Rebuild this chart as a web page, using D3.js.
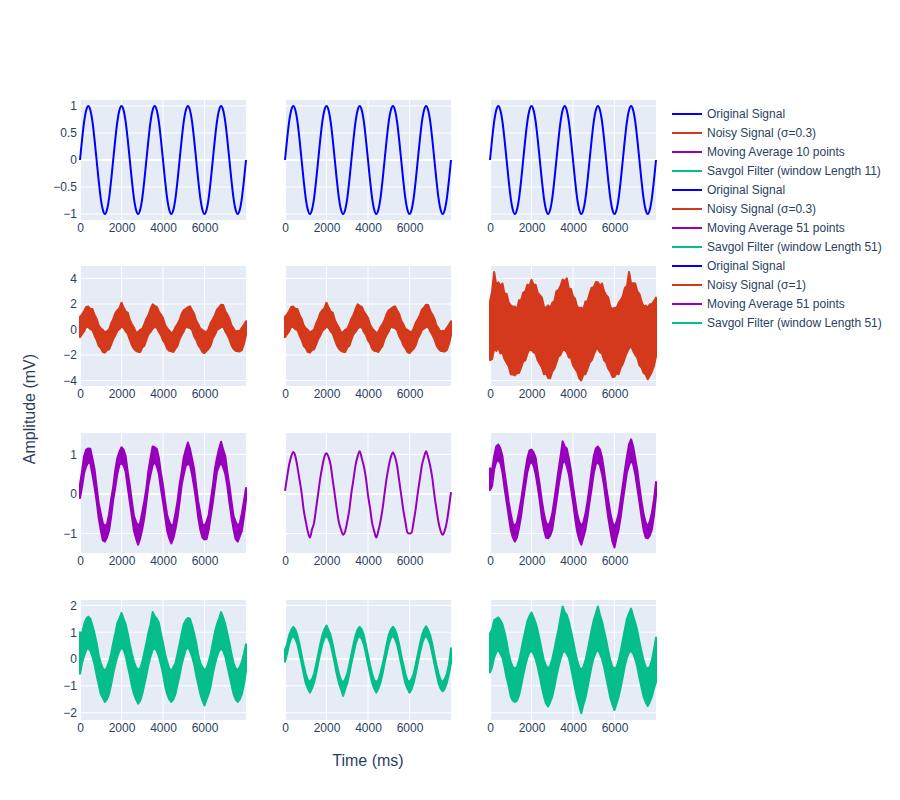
<!DOCTYPE html>
<html>
<head>
<meta charset="utf-8">
<script src="https://cdn.jsdelivr.net/npm/d3@7"></script>
<style>
  body { margin: 0; background: #fff; }
  svg { font-family: "Liberation Sans", Arial, sans-serif; }
</style>
</head>
<body>
<script>
// sample times (ms), read every 100 ms
const time = [0,100,200,300,400,500,600,700,800,900,1000,1100,1200,1300,1400,1500,
  1600,1700,1800,1900,2000,2100,2200,2300,2400,2500,2600,2700,2800,2900,3000,3100,
  3200,3300,3400,3500,3600,3700,3800,3900,4000,4100,4200,4300,4400,4500,4600,4700,
  4800,4900,5000,5100,5200,5300,5400,5500,5600,5700,5800,5900,6000,6100,6200,6300,
  6400,6500,6600,6700,6800,6900,7000,7100,7200,7300,7400,7500,7600,7700,7800,7900,
  8000]

const original = [0,.38,.71,.92,1,.92,.71,.38,0,-.38,-.71,-.92,-1,-.92,-.71,-.38,
  0,.38,.71,.92,1,.92,.71,.38,0,-.38,-.71,-.92,-1,-.92,-.71,-.38,
  0,.38,.71,.92,1,.92,.71,.38,0,-.38,-.71,-.92,-1,-.92,-.71,-.38,
  0,.38,.71,.92,1,.92,.71,.38,0,-.38,-.71,-.92,-1,-.92,-.71,-.38,
  0,.38,.71,.92,1,.92,.71,.38,0,-.38,-.71,-.92,-1,-.92,-.71,-.38,
  0]

// noisy / filtered traces are too dense to follow point by point,
// so they are kept as the upper and lower edge of the band they paint
const noisy03Hi = [1.0,1.18,1.46,1.77,1.8,1.62,1.61,1.13,.85,.32,.09,-.02,-.25,-.12,-.01,.47,
  .8,1.28,1.51,1.67,2.1,1.72,1.41,1.33,.75,.42,.14,-.22,-.2,-.02,.04,.42,
  .85,1.13,1.61,1.97,1.85,1.77,1.41,1.18,.9,.37,.09,-.07,-.3,-.17,.19,.42,
  .75,1.23,1.51,1.62,1.75,1.82,1.51,1.23,.7,.42,.04,-.02,-.15,-.22,.09,.52,
  .8,1.13,1.56,1.72,1.95,1.92,1.46,1.18,.85,.32,.09,-.17,-.1,-.12,.14,.37,
  .65]
const noisy03Lo = [-.6,-.37,-.14,.22,.2,.02,-.04,-.47,-.8,-1.28,-1.46,-1.77,-1.8,-1.62,-1.56,-1.18,
  -.75,-.47,-.09,.02,.25,.12,-.14,-.32,-.8,-1.23,-1.51,-1.67,-1.75,-1.77,-1.41,-1.28,
  -.8,-.37,-.19,.07,.2,.17,-.19,-.42,-.85,-1.08,-1.51,-1.67,-1.7,-1.77,-1.51,-1.28,
  -.75,-.42,-.14,.22,.15,.12,-.04,-.52,-.8,-1.23,-1.46,-1.77,-1.85,-1.67,-1.51,-1.23,
  -.7,-.42,-.04,.07,.2,.22,-.14,-.42,-.75,-1.23,-1.51,-1.67,-1.7,-1.72,-1.61,-1.13,
  -.45]

const noisy1Hi = [2.2,2.98,4.51,3.52,3.7,3.42,3.61,2.78,2.8,2.12,1.89,1.78,1.8,1.58,2.29,2.32,
  2.9,2.98,3.51,3.42,3.9,3.52,3.51,2.88,2.7,2.52,1.79,1.68,1.9,1.68,2.09,2.22,
  3.0,3.08,3.41,3.92,3.8,4.02,3.21,3.18,2.6,2.42,1.79,1.68,1.7,1.58,2.19,2.22,
  2.8,3.28,3.31,3.72,3.7,3.42,3.61,2.98,2.7,2.52,1.79,1.58,1.7,1.68,2.09,2.32,
  2.6,3.28,3.41,4.52,3.6,3.62,3.61,2.98,2.8,2.22,1.79,1.88,1.7,1.98,1.99,2.22,
  2.5]
const noisy1Lo = [-2.4,-2.32,-1.49,-1.68,-1.4,-1.88,-1.79,-2.32,-2.6,-2.88,-3.51,-3.52,-3.6,-3.42,-3.41,-2.98,
  -2.5,-2.42,-1.89,-1.58,-1.6,-1.78,-1.89,-2.42,-2.7,-2.98,-3.51,-3.42,-3.8,-3.82,-3.31,-3.08,
  -2.6,-2.12,-1.99,-1.58,-1.6,-1.78,-2.19,-2.22,-2.8,-3.08,-3.31,-3.82,-4.0,-3.52,-3.51,-3.08,
  -2.6,-2.42,-1.99,-1.58,-1.5,-1.78,-1.89,-2.42,-2.6,-3.08,-3.31,-3.72,-3.7,-3.42,-3.51,-2.98,
  -2.7,-2.22,-1.79,-1.48,-1.3,-1.68,-1.99,-2.22,-2.8,-2.98,-3.41,-3.52,-3.9,-3.62,-3.31,-2.88,
  -2.1]

const ma10Hi = [.25,.58,.96,1.12,1.15,1.14,.89,.63,.2,-.23,-.49,-.74,-.8,-.77,-.51,-.13,
  .18,.6,.91,1.07,1.18,1.12,.96,.56,.22,-.18,-.56,-.7,-.82,-.72,-.46,-.18,
  .15,.6,.91,1.2,1.18,1.14,.91,.53,.22,-.18,-.53,-.7,-.8,-.77,-.49,-.18,
  .25,.56,.93,1.12,1.3,1.14,.89,.63,.2,-.2,-.49,-.77,-.8,-.7,-.53,-.16,
  .2,.63,.91,1.14,1.32,1.12,.96,.56,.22,-.18,-.56,-.7,-.8,-.74,-.49,-.18,
  .15]
const ma10Lo = [-.1,.18,.53,.7,.8,.77,.49,.18,-.18,-.6,-.91,-1.17,-1.2,-1.1,-.93,-.58,
  -.15,.16,.51,.74,.78,.72,.56,.16,-.2,-.56,-.93,-1.12,-1.28,-1.12,-.89,-.6,
  -.2,.23,.49,.72,.82,.7,.51,.13,-.2,-.56,-.93,-1.12,-1.25,-1.12,-.89,-.6,
  -.2,.23,.49,.72,.75,.74,.49,.18,-.18,-.6,-.91,-1.1,-1.15,-1.14,-.91,-.56,
  -.22,.18,.56,.7,.8,.67,.51,.2,-.22,-.58,-.89,-1.14,-1.2,-1.07,-.93,-.58,
  -.15]

const ma51Smooth = [.08,.42,.74,.95,1.06,.95,.68,.36,.03,-.4,-.69,-.95,-1.1,-.9,-.73,-.36,
  .02,.4,.7,.94,1.03,.93,.73,.35,-.02,-.4,-.72,-.9,-1.03,-.94,-.7,-.4,
  .03,.37,.73,.95,1.08,.9,.7,.4,-.03,-.36,-.73,-.94,-1.1,-.93,-.69,-.38,
  .02,.4,.7,.93,1.05,.94,.72,.35,-.02,-.4,-.7,-.97,-1.0,-.98,-.7,-.37,
  .03,.38,.73,.93,1.08,.92,.7,.4,-.03,-.38,-.72,-.93,-1.03,-.92,-.7,-.35,
  .05]

const ma51NoisyHi = [.65,.6,.95,1.2,1.25,1.15,.95,.55,.2,-.2,-.5,-.75,-.8,-.72,-.45,-.15,
  .2,.58,.9,1.1,1.12,1.05,.92,.55,.22,-.18,-.5,-.72,-.8,-.7,-.5,-.15,
  .22,.6,.95,1.33,1.2,1.15,.9,.6,.2,-.15,-.5,-.7,-.8,-.72,-.5,-.18,
  .2,.6,.95,1.15,1.2,1.12,.92,.58,.18,-.15,-.48,-.72,-.82,-.7,-.5,-.15,
  .22,.6,.95,1.25,1.38,1.2,.9,.6,.2,-.18,-.5,-.72,-.82,-.7,-.48,-.15,
  .3]
const ma51NoisyLo = [.1,.2,.62,.82,.85,.78,.55,.15,-.2,-.55,-.9,-1.1,-1.2,-1.1,-.85,-.55,
  -.15,.2,.55,.75,.82,.72,.5,.18,-.18,-.6,-.9,-1.1,-1.12,-1.05,-.9,-.55,
  -.2,.18,.5,.78,.85,.7,.5,.15,-.2,-.6,-.95,-1.15,-1.28,-1.1,-.9,-.58,
  -.2,.15,.52,.75,.8,.72,.5,.2,-.22,-.6,-.92,-1.2,-1.35,-1.1,-.9,-.58,
  -.18,.18,.55,.72,.85,.75,.5,.15,-.2,-.58,-.9,-1.1,-1.12,-1.05,-.9,-.55,
  -.05]

const sg11Hi = [1.0,.95,1.3,1.5,1.58,1.5,1.25,.95,.6,.15,-.15,-.35,-.45,-.3,-.1,.2,
  .6,.95,1.35,1.5,1.72,1.5,1.3,.95,.55,.2,-.1,-.3,-.4,-.35,-.1,.25,
  .6,1.0,1.3,1.75,1.6,1.5,1.35,.95,.6,.2,-.1,-.35,-.45,-.3,-.15,.2,
  .55,.95,1.3,1.45,1.53,1.5,1.25,.95,.6,.15,-.15,-.3,-.4,-.35,-.1,.2,
  .6,1.0,1.3,1.5,1.75,1.55,1.3,.95,.6,.2,-.15,-.35,-.4,-.3,-.1,.2,
  .55]
const sg11Lo = [-.55,-.15,.12,.35,.4,.3,.1,-.2,-.6,-.95,-1.3,-1.45,-1.6,-1.5,-1.3,-.95,
  -.55,-.2,.1,.3,.42,.35,.12,-.25,-.6,-1.0,-1.3,-1.5,-1.66,-1.55,-1.3,-.95,
  -.6,-.2,.1,.35,.4,.3,.1,-.2,-.55,-1.0,-1.3,-1.5,-1.6,-1.5,-1.3,-.95,
  -.6,-.2,.1,.35,.45,.3,.1,-.2,-.6,-.95,-1.3,-1.55,-1.73,-1.5,-1.3,-1.0,
  -.55,-.2,.1,.3,.4,.3,.1,-.25,-.6,-.95,-1.3,-1.5,-1.6,-1.5,-1.3,-.95,
  -.45]

const sg51SmoothHi = [.35,.55,.88,1.08,1.2,1.1,.88,.55,.15,-.22,-.55,-.78,-.85,-.75,-.55,-.2,
  .18,.55,.9,1.1,1.25,1.08,.88,.55,.15,-.2,-.55,-.78,-.88,-.75,-.55,-.2,
  .18,.55,.88,1.1,1.2,1.1,.88,.52,.15,-.22,-.55,-.78,-.85,-.78,-.52,-.2,
  .15,.55,.9,1.1,1.2,1.1,.88,.55,.15,-.2,-.55,-.8,-.85,-.75,-.55,-.2,
  .18,.55,.88,1.1,1.22,1.08,.88,.55,.15,-.22,-.55,-.78,-.85,-.75,-.55,-.2,
  .4]
const sg51SmoothLo = [-.1,.2,.55,.78,.85,.75,.55,.2,-.15,-.55,-.9,-1.1,-1.25,-1.1,-.88,-.55,
  -.15,.22,.55,.78,.85,.75,.55,.2,-.18,-.58,-.9,-1.12,-1.37,-1.12,-.9,-.55,
  -.15,.2,.55,.78,.85,.75,.55,.2,-.18,-.55,-.88,-1.1,-1.25,-1.1,-.88,-.55,
  -.15,.2,.55,.78,.88,.75,.55,.2,-.18,-.55,-.9,-1.1,-1.25,-1.12,-.88,-.55,
  -.15,.22,.55,.78,.85,.75,.55,.2,-.18,-.55,-.9,-1.1,-1.2,-1.1,-.88,-.55,
  -.15]

const sg51NoisyHi = [.95,1.1,1.45,1.5,1.55,1.45,1.3,1.0,.65,.2,-.1,-.3,-.35,-.3,-.05,.3,
  .7,1.05,1.4,1.6,1.73,1.55,1.35,1.05,.7,.3,-.05,-.25,-.35,-.25,0,.35,
  .75,1.1,1.55,1.96,1.75,1.65,1.4,1.05,.7,.3,-.05,-.3,-.4,-.3,-.05,.3,
  .7,1.1,1.45,1.7,1.96,1.65,1.4,1.05,.7,.3,-.05,-.3,-.35,-.3,-.05,.3,
  .7,1.1,1.5,1.7,1.88,1.6,1.35,1.05,.65,.3,-.05,-.3,-.35,-.3,-.05,.35,
  .8]
const sg51NoisyLo = [-.5,-.3,.05,.25,.35,.2,.05,-.3,-.7,-1.0,-1.4,-1.55,-1.6,-1.55,-1.35,-1.0,
  -.6,-.25,.05,.25,.3,.2,0,-.3,-.65,-1.05,-1.4,-1.65,-1.77,-1.6,-1.4,-1.05,
  -.65,-.3,0,.25,.3,.2,.05,-.3,-.7,-1.1,-1.45,-1.75,-2.02,-1.7,-1.45,-1.05,
  -.65,-.25,.05,.25,.35,.2,0,-.3,-.7,-1.05,-1.45,-1.7,-1.9,-1.65,-1.4,-1.05,
  -.65,-.25,.05,.25,.3,.2,0,-.3,-.7,-1.05,-1.4,-1.6,-1.75,-1.6,-1.4,-1.1,
  -.85]

const xTicks = [0, 2000, 4000, 6000]
const xRange = [0, 8000]
const rowYTicks = [[1, 0.5, 0, -0.5, -1], [4, 2, 0, -2, -4], [1, 0, -1], [2, 1, 0, -1, -2]]
const rowYRanges = [[-1.11, 1.11], [-4.43, 4.98], [-1.49, 1.54], [-2.27, 2.2]]

const legendLabels = [
  "Original Signal", "Noisy Signal (σ=0.3)", "Moving Average 10 points", "Savgol Filter (window Length 11)",
  "Original Signal", "Noisy Signal (σ=0.3)", "Moving Average 51 points", "Savgol Filter (window Length 51)",
  "Original Signal", "Noisy Signal (σ=1)", "Moving Average 51 points", "Savgol Filter (window Length 51)"
]
const rowColors = ["#0000ff", "#d4391b", "#9600bc", "#05be89"]

// which trace sits in which subplot: [row][col]
const grid = [
  [{ line: original }, { line: original }, { line: original }],
  [{ hi: noisy03Hi, lo: noisy03Lo }, { hi: noisy03Hi, lo: noisy03Lo }, { hi: noisy1Hi, lo: noisy1Lo }],
  [{ hi: ma10Hi, lo: ma10Lo }, { line: ma51Smooth }, { hi: ma51NoisyHi, lo: ma51NoisyLo }],
  [{ hi: sg11Hi, lo: sg11Lo }, { hi: sg51SmoothHi, lo: sg51SmoothLo }, { hi: sg51NoisyHi, lo: sg51NoisyLo }]
]

const W = 900, H = 800
const colX = [80, 285, 490], colW = 166
const rowY = [100, 266, 433, 600], rowH = 120
const textColor = "#2a3f5f"
const fontFamily = '"Liberation Sans", Arial, sans-serif'
const fmt = d3.format("~g")

const svg = d3.select("body").append("svg")
  .attr("width", W)
  .attr("height", H)

grid.forEach((row, r) => {
  row.forEach((cell, c) => {
    const g = svg.append("g")
      .attr("transform", `translate(${colX[c]}, ${rowY[r]})`)

    const x = d3.scaleLinear().domain(xRange).range([0, colW])
    const y = d3.scaleLinear().domain(rowYRanges[r]).range([rowH, 0])

    g.append("rect")
      .attr("width", colW)
      .attr("height", rowH)
      .attr("fill", "#e5ecf6")

    g.selectAll(".vgrid")
      .data(xTicks)
      .join("line")
        .attr("x1", d => x(d)).attr("x2", d => x(d))
        .attr("y1", 0).attr("y2", rowH)
        .attr("stroke", "#fff")
        .attr("stroke-width", d => d === 0 ? 2 : 1)

    g.selectAll(".hgrid")
      .data(rowYTicks[r])
      .join("line")
        .attr("x1", 0).attr("x2", colW)
        .attr("y1", d => y(d)).attr("y2", d => y(d))
        .attr("stroke", "#fff")
        .attr("stroke-width", d => d === 0 ? 2 : 1)

    const clipId = `clip-${r}-${c}`
    g.append("clipPath").attr("id", clipId)
      .append("rect").attr("x", -1).attr("width", colW + 2).attr("height", rowH)

    const color = rowColors[r]
    const plot = g.append("g").attr("clip-path", `url(#${clipId})`)

    if (cell.line) {
      const line = d3.line()
        .x((d, i) => x(time[i]))
        .y(d => y(d))
        .curve(d3.curveMonotoneX)
      plot.append("path")
        .datum(cell.line)
        .attr("d", line)
        .attr("fill", "none")
        .attr("stroke", color)
        .attr("stroke-width", 2)
    } else {
      const pts = time.map((t, i) => ({ t: t, hi: cell.hi[i], lo: cell.lo[i] }))
      const area = d3.area()
        .x(d => x(d.t))
        .y0(d => y(d.lo))
        .y1(d => y(d.hi))
      plot.append("path")
        .datum(pts)
        .attr("d", area)
        .attr("fill", color)
        .attr("stroke", color)
        .attr("stroke-width", 2)
        .attr("stroke-linejoin", "round")
    }

    const xAxis = g.append("g")
      .attr("transform", `translate(0, ${rowH})`)
      .call(d3.axisBottom(x).tickValues(xTicks).tickFormat(fmt).tickSize(0).tickPadding(3))
    xAxis.select(".domain").remove()
    xAxis.selectAll("text")
      .attr("fill", textColor)
      .style("font-size", "12px")
      .style("font-family", fontFamily)

    if (c === 0) {
      const yAxis = g.append("g")
        .call(d3.axisLeft(y).tickValues(rowYTicks[r]).tickFormat(fmt).tickSize(0).tickPadding(3))
      yAxis.select(".domain").remove()
      yAxis.selectAll("text")
        .attr("fill", textColor)
        .style("font-size", "12px")
        .style("font-family", fontFamily)
    }
  })
})

// axis titles
svg.append("text")
  .attr("x", 368)
  .attr("y", 766)
  .attr("text-anchor", "middle")
  .attr("fill", textColor)
  .style("font-size", "16px")
  .text("Time (ms)")

svg.append("text")
  .attr("transform", "translate(35, 409) rotate(-90)")
  .attr("text-anchor", "middle")
  .attr("fill", textColor)
  .style("font-size", "16px")
  .text("Amplitude (mV)")

// legend
const legend = svg.append("g").attr("transform", "translate(672, 114)")
const items = legend.selectAll(".item")
  .data(legendLabels)
  .join("g")
    .attr("transform", (d, i) => `translate(0, ${i * 19})`)

items.append("line")
  .attr("x1", 0).attr("x2", 30)
  .attr("stroke", (d, i) => rowColors[i % 4])
  .attr("stroke-width", 2)

items.append("text")
  .attr("x", 35)
  .attr("dy", "0.35em")
  .attr("fill", textColor)
  .style("font-size", "12px")
  .text(d => d)
</script>
</body>
</html>
